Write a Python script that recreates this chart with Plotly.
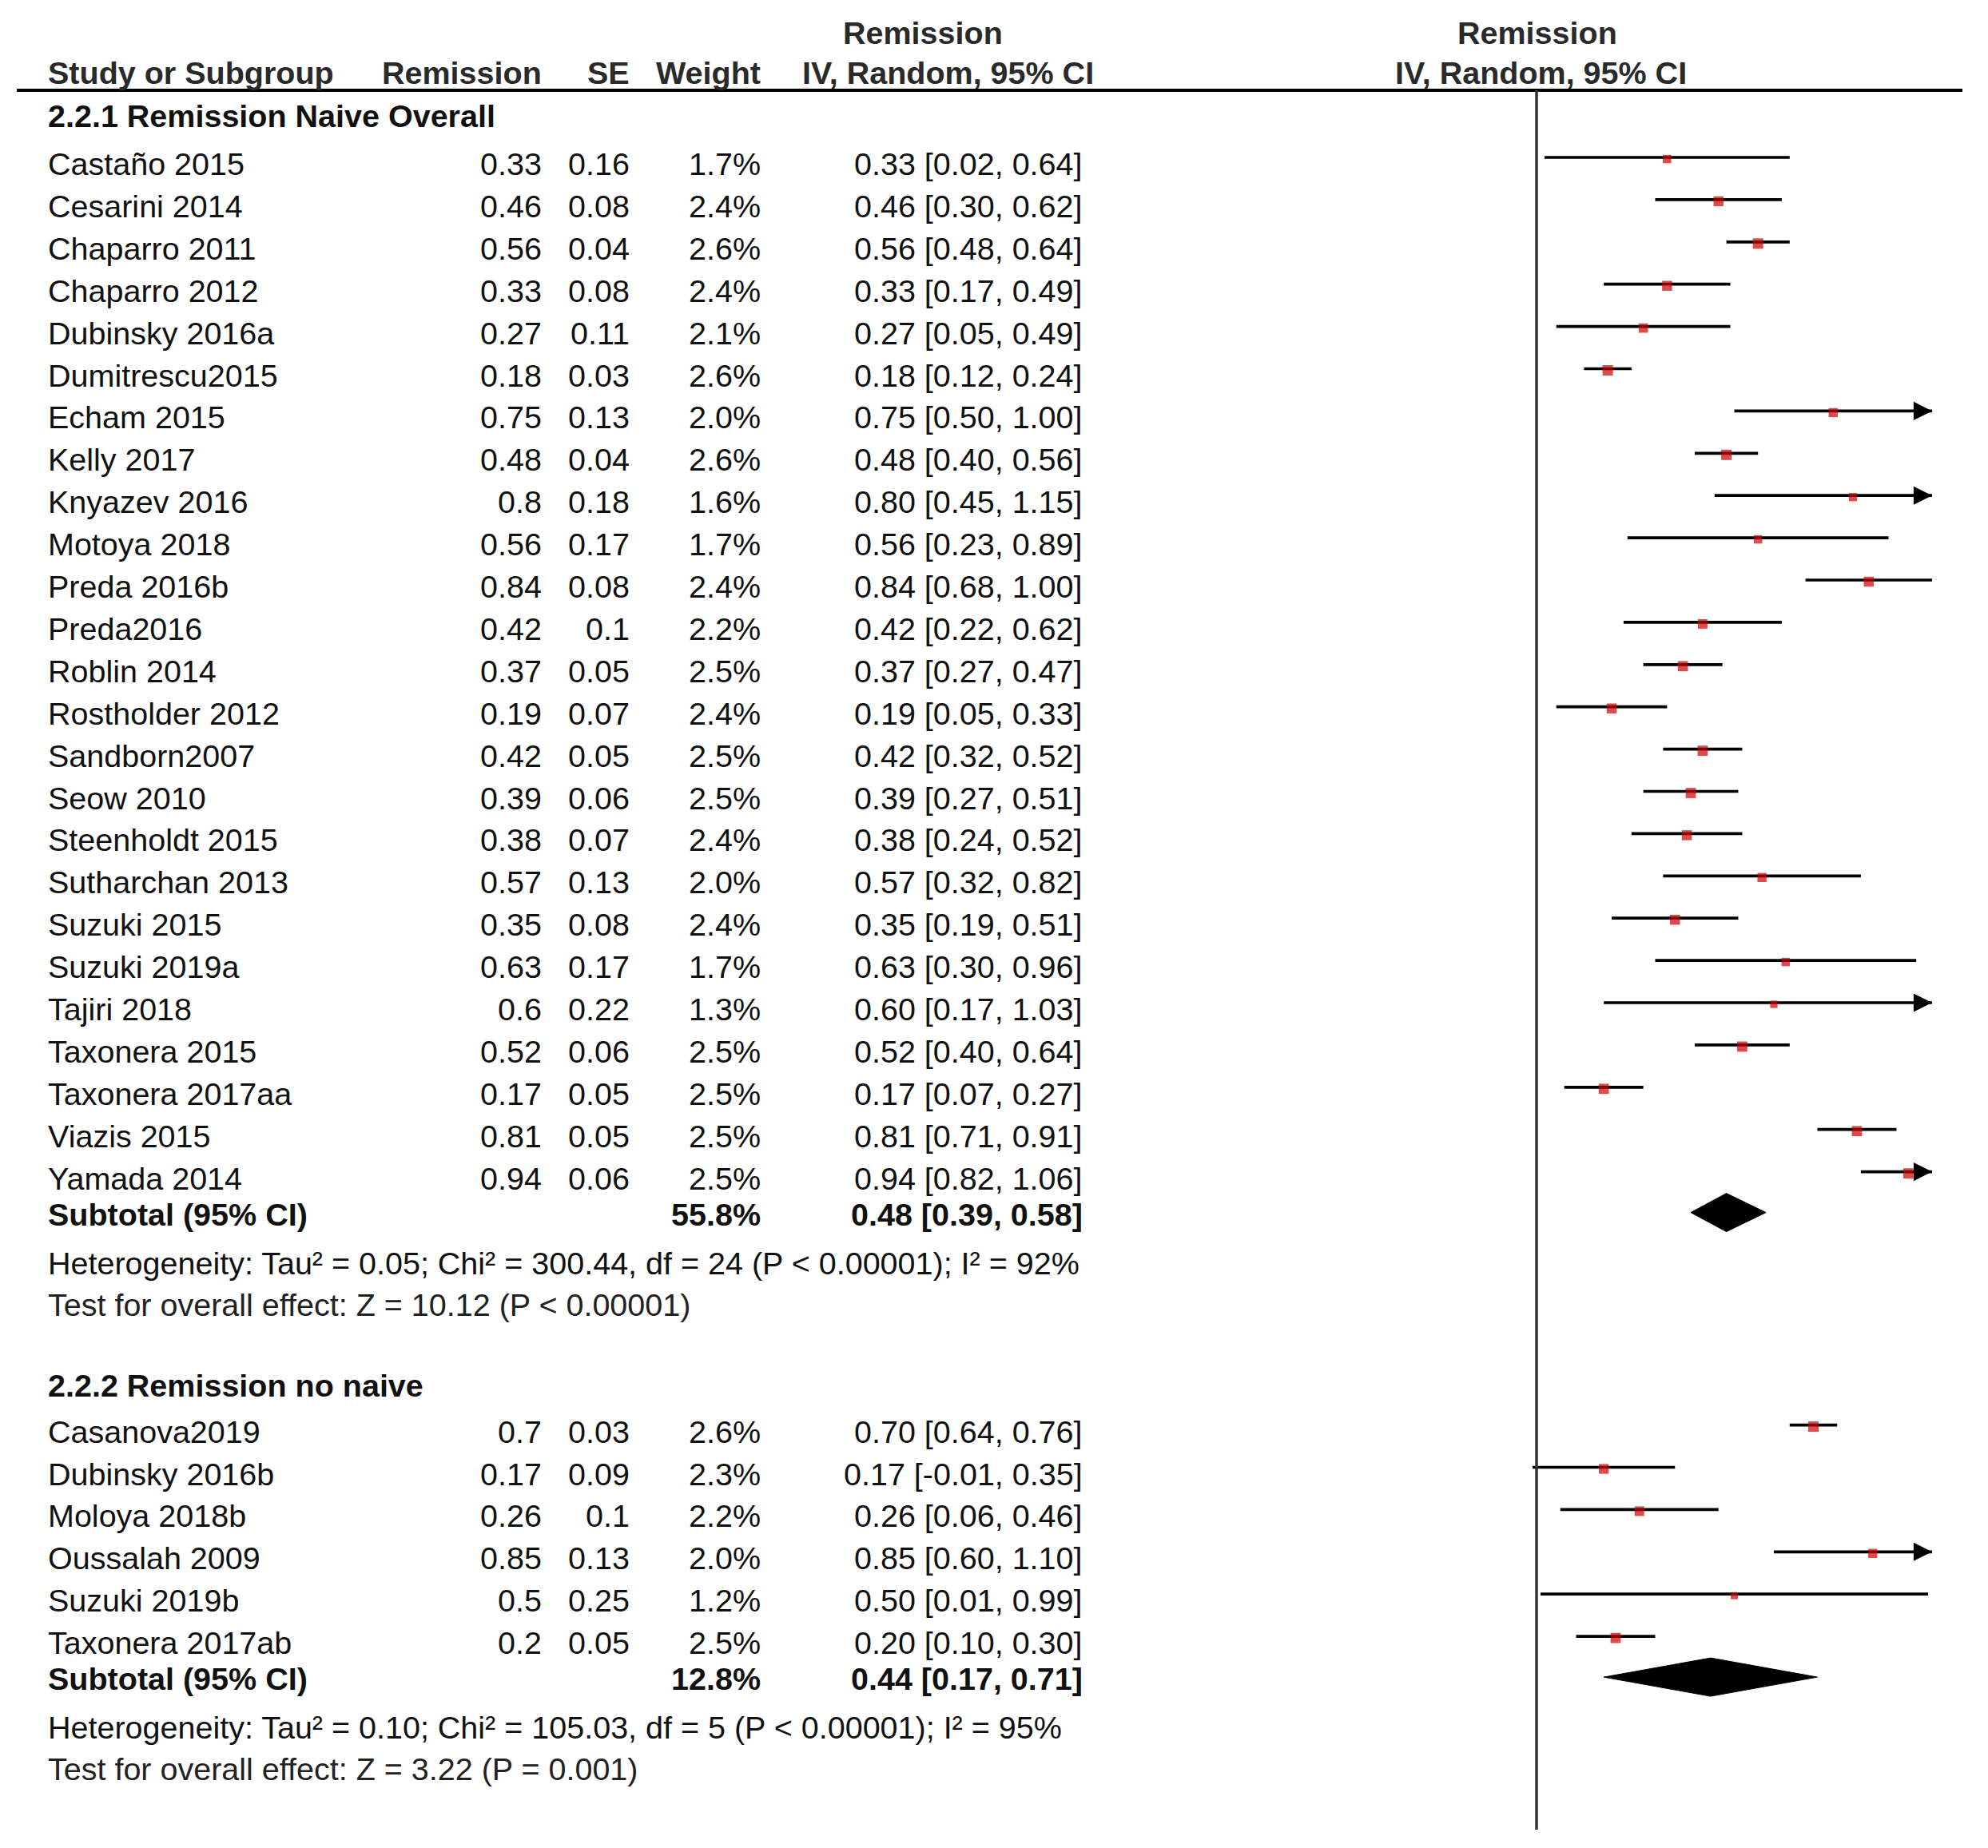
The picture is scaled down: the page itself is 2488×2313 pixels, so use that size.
import plotly.graph_objects as go

# ---------------- data ----------------
g1_label = "2.2.1 Remission Naive Overall"
g1_names = ["Castaño 2015", "Cesarini 2014", "Chaparro 2011", "Chaparro 2012", "Dubinsky 2016a",
            "Dumitrescu2015", "Echam 2015", "Kelly 2017", "Knyazev 2016", "Motoya 2018",
            "Preda 2016b", "Preda2016", "Roblin 2014", "Rostholder 2012", "Sandborn2007",
            "Seow 2010", "Steenholdt 2015", "Sutharchan 2013", "Suzuki 2015", "Suzuki 2019a",
            "Tajiri 2018", "Taxonera 2015", "Taxonera 2017aa", "Viazis 2015", "Yamada 2014"]
g1_est = [0.33, 0.46, 0.56, 0.33, 0.27, 0.18, 0.75, 0.48, 0.8, 0.56, 0.84, 0.42, 0.37, 0.19, 0.42,
          0.39, 0.38, 0.57, 0.35, 0.63, 0.6, 0.52, 0.17, 0.81, 0.94]
g1_se = [0.16, 0.08, 0.04, 0.08, 0.11, 0.03, 0.13, 0.04, 0.18, 0.17, 0.08, 0.1, 0.05, 0.07, 0.05,
         0.06, 0.07, 0.13, 0.08, 0.17, 0.22, 0.06, 0.05, 0.05, 0.06]
g1_weight = [1.7, 2.4, 2.6, 2.4, 2.1, 2.6, 2.0, 2.6, 1.6, 1.7, 2.4, 2.2, 2.5, 2.4, 2.5,
             2.5, 2.4, 2.0, 2.4, 1.7, 1.3, 2.5, 2.5, 2.5, 2.5]
g1_lo = [0.02, 0.30, 0.48, 0.17, 0.05, 0.12, 0.50, 0.40, 0.45, 0.23, 0.68, 0.22, 0.27, 0.05, 0.32,
         0.27, 0.24, 0.32, 0.19, 0.30, 0.17, 0.40, 0.07, 0.71, 0.82]
g1_hi = [0.64, 0.62, 0.64, 0.49, 0.49, 0.24, 1.00, 0.56, 1.15, 0.89, 1.00, 0.62, 0.47, 0.33, 0.52,
         0.51, 0.52, 0.82, 0.51, 0.96, 1.03, 0.64, 0.27, 0.91, 1.06]
g1_sub_weight = 55.8
g1_sub_est = 0.48
g1_sub_lo = 0.39
g1_sub_hi = 0.58
g1_het = "Heterogeneity: Tau² = 0.05; Chi² = 300.44, df = 24 (P &lt; 0.00001); I² = 92%"
g1_test = "Test for overall effect: Z = 10.12 (P &lt; 0.00001)"

g2_label = "2.2.2 Remission no naive"
g2_names = ["Casanova2019", "Dubinsky 2016b", "Moloya 2018b", "Oussalah 2009", "Suzuki 2019b",
            "Taxonera 2017ab"]
g2_est = [0.7, 0.17, 0.26, 0.85, 0.5, 0.2]
g2_se = [0.03, 0.09, 0.1, 0.13, 0.25, 0.05]
g2_weight = [2.6, 2.3, 2.2, 2.0, 1.2, 2.5]
g2_lo = [0.64, -0.01, 0.06, 0.60, 0.01, 0.10]
g2_hi = [0.76, 0.35, 0.46, 1.10, 0.99, 0.30]
g2_sub_weight = 12.8
g2_sub_est = 0.44
g2_sub_lo = 0.17
g2_sub_hi = 0.71
g2_het = "Heterogeneity: Tau² = 0.10; Chi² = 105.03, df = 5 (P &lt; 0.00001); I² = 95%"
g2_test = "Test for overall effect: Z = 3.22 (P = 0.001)"

hdr_cols = ["Study or Subgroup", "Remission", "SE", "Weight"]
hdr_outcome = "Remission"
hdr_method = "IV, Random, 95% CI"
x_range = [-1, 1]

# ---------------- layout constants ----------------
W, H = 2488, 2313
FONT = "Liberation Sans, Arial, sans-serif"
FS = 39.5
TXT = "#111111"
HDR_TXT = "#2a2a2a"

X_NAME = 59
X_EST_R = 679
X_SE_R = 789
X_W_R = 953
X_CI_R = 1356
X_HDR_OUT_C = 1155
X_HDR_CI_C = 1186
X_PLOT_L, X_PLOT_R = 1428, 2418
X_PLOT_HDR_C = 1924

Y_HDR1, Y_HDR2, Y_RULE = 41, 91, 113
PITCH = 52.9
LINE_OFF = -8      # CI line sits slightly above text centre
SQ_OFF = 2
DIA_OFF = -2
DIA_HALF = 24

fig = go.Figure()


def txt(xpx, y, s, anchor="left", bold=False, color=TXT):
    fig.add_annotation(x=xpx / W, xref="paper", y=y, yref="y",
                       text=f"<b>{s}</b>" if bold else s, showarrow=False,
                       xanchor=anchor, yanchor="middle", borderpad=0,
                       font=dict(family=FONT, size=FS, color=color))


# headers
txt(X_HDR_OUT_C, Y_HDR1, hdr_outcome, "center", True, HDR_TXT)
txt(X_PLOT_HDR_C, Y_HDR1, hdr_outcome, "center", True, HDR_TXT)
txt(X_NAME, Y_HDR2, hdr_cols[0], "left", True, HDR_TXT)
txt(X_EST_R, Y_HDR2, hdr_cols[1], "right", True, HDR_TXT)
txt(X_SE_R, Y_HDR2, hdr_cols[2], "right", True, HDR_TXT)
txt(X_W_R, Y_HDR2, hdr_cols[3], "right", True, HDR_TXT)
txt(X_HDR_CI_C, Y_HDR2, hdr_method, "center", True, HDR_TXT)
txt(X_PLOT_HDR_C + 4, Y_HDR2, hdr_method, "center", True, HDR_TXT)

fig.add_shape(type="line", xref="paper", yref="y", x0=21 / W, x1=2456 / W,
              y0=Y_RULE, y1=Y_RULE, line=dict(color="black", width=4))


def fmt(v):
    return f"{v:g}"


def group(label, y_head, first_off, names, est, se, wt, lo, hi,
          sw, sest, slo, shi, het, test):
    txt(X_NAME, y_head, label, "left", True)
    y0 = y_head + first_off
    ys = [y0 + i * PITCH for i in range(len(names))]
    for i, n in enumerate(names):
        txt(X_NAME, ys[i], n)
        txt(X_EST_R, ys[i], fmt(est[i]), "right")
        txt(X_SE_R, ys[i], fmt(se[i]), "right")
        txt(X_W_R, ys[i], f"{wt[i]:.1f}%", "right")
        txt(X_CI_R, ys[i], f"{est[i]:.2f} [{lo[i]:.2f}, {hi[i]:.2f}]", "right")
    # CI lines
    lx, ly = [], []
    for i in range(len(names)):
        yl = ys[i] + LINE_OFF
        lx += [max(lo[i], x_range[0]), min(hi[i], x_range[1]), None]
        ly += [yl, yl, None]
    fig.add_trace(go.Scatter(x=lx, y=ly, mode="lines", line=dict(color="black", width=3.7),
                             hoverinfo="skip", cliponaxis=False))
    # squares
    fig.add_trace(go.Scatter(x=est, y=[y + LINE_OFF + SQ_OFF for y in ys], mode="markers",
                             marker=dict(symbol="square", color="#cc0000",
                                         size=[13 * (w / 2.6) ** 0.5 for w in wt],
                                         line=dict(width=0)),
                             hoverinfo="skip", cliponaxis=False))
    # arrows for truncated CIs
    for i in range(len(names)):
        if est[i] + 1.96 * se[i] > x_range[1]:
            fig.add_annotation(x=x_range[1], y=ys[i] + LINE_OFF, xref="x", yref="y",
                               ax=-22, ay=0, text="", showarrow=True, arrowhead=2,
                               arrowsize=1.25, arrowwidth=3.7, arrowcolor="black")
    # subtotal
    y_sub = ys[-1] + 45
    txt(X_NAME, y_sub, "Subtotal (95% CI)", "left", True)
    txt(X_W_R, y_sub, f"{sw:.1f}%", "right", True)
    txt(X_CI_R, y_sub, f"{sest:.2f} [{slo:.2f}, {shi:.2f}]", "right", True)
    yd = y_sub + DIA_OFF
    fig.add_trace(go.Scatter(x=[slo, sest, shi, sest, slo],
                             y=[yd, yd - DIA_HALF, yd, yd + DIA_HALF, yd],
                             mode="lines", fill="toself", fillcolor="black",
                             line=dict(color="black", width=1), hoverinfo="skip"))
    y_het = y_sub + 61
    y_test = y_het + 52
    txt(X_NAME, y_het, het)
    txt(X_NAME, y_test, test, color="#222222")
    return y_test


y_end1 = group(g1_label, 145, 60, g1_names, g1_est, g1_se, g1_weight, g1_lo, g1_hi,
               g1_sub_weight, g1_sub_est, g1_sub_lo, g1_sub_hi, g1_het, g1_test)
y_end2 = group(g2_label, y_end1 + 101, 58, g2_names, g2_est, g2_se, g2_weight, g2_lo, g2_hi,
               g2_sub_weight, g2_sub_est, g2_sub_lo, g2_sub_hi, g2_het, g2_test)

# line of no effect
fig.add_shape(type="line", xref="x", yref="y", x0=0, x1=0, y0=Y_RULE, y1=2290,
              line=dict(color="#333333", width=3.5))

fig.update_layout(
    width=W, height=H, margin=dict(l=0, r=0, t=0, b=0),
    paper_bgcolor="white", plot_bgcolor="white", showlegend=False,
    xaxis=dict(domain=[X_PLOT_L / W, X_PLOT_R / W], range=x_range, visible=False,
               showgrid=False, zeroline=False, fixedrange=True),
    yaxis=dict(domain=[0, 1], range=[H, 0], visible=False, showgrid=False,
               zeroline=False, fixedrange=True),
)

fig.write_html("out.html", config={"displayModeBar": False},
               post_script="document.body.style.margin='0px';document.body.style.padding='0px';")
